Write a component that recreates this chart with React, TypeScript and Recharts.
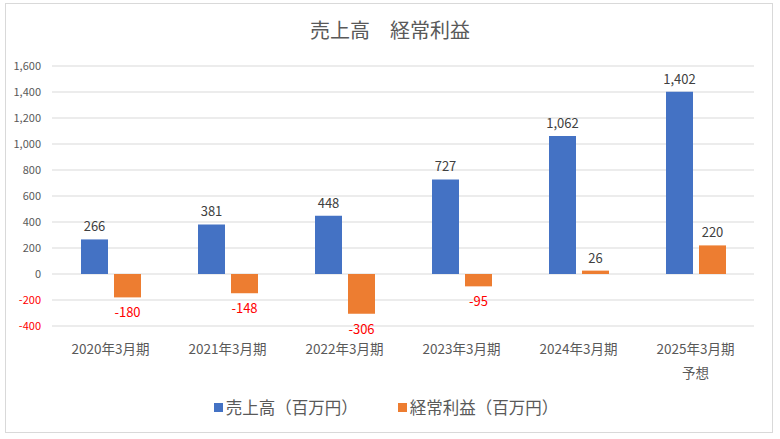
import {
  BarChart,
  Bar,
  XAxis,
  YAxis,
  CartesianGrid,
  Legend,
  LabelList,
} from "recharts";

const periods = [
  "2020年3月期",
  "2021年3月期",
  "2022年3月期",
  "2023年3月期",
  "2024年3月期",
  "2025年3月期",
];
const periodNotes = ["", "", "", "", "", "予想"];
const sales = [266, 381, 448, 727, 1062, 1402];
const ordinaryProfit = [-180, -148, -306, -95, 26, 220];
const yTicks = [-400, -200, 0, 200, 400, 600, 800, 1000, 1200, 1400, 1600];

const salesName = "売上高（百万円）";
const profitName = "経常利益（百万円）";

const data = periods.map((p, i) => ({
  period: p,
  note: periodNotes[i],
  sales: sales[i],
  profit: ordinaryProfit[i],
}));

const FONT = '"Noto Sans CJK JP", "Noto Sans", sans-serif';
const fmt = (v: number) => v.toLocaleString("en-US");

function YTick(props: any) {
  const { y, payload } = props;
  const v = payload.value as number;
  return (
    <text
      x={41}
      y={y}
      dy={4}
      textAnchor="end"
      fontSize={11}
      fontFamily={FONT}
      fill={v < 0 ? "#FF0000" : "#595959"}
    >
      {fmt(v)}
    </text>
  );
}

function XTick(props: any) {
  const { x, payload, index } = props;
  const note = periodNotes[index] || "";
  const base = 354;
  return (
    <g>
      <text
        x={x}
        y={base}
        textAnchor="middle"
        fontSize={13.5}
        fontFamily={FONT}
        fill="#595959"
      >
        {payload.value}
      </text>
      {note && (
        <text
          x={x}
          y={base + 24}
          textAnchor="middle"
          fontSize={13.5}
          fontFamily={FONT}
          fill="#595959"
        >
          {note}
        </text>
      )}
    </g>
  );
}

function ProfitLabel(props: any) {
  const { x, y, width, height, value } = props;
  const neg = value < 0;
  const cx = x + width / 2;
  const end = neg ? Math.max(y, y + height) : Math.min(y, y + height);
  return (
    <text
      x={cx}
      y={neg ? end + 20 : end - 8}
      textAnchor="middle"
      fontSize={13}
      fontFamily={FONT}
      fill={neg ? "#FF0000" : "#404040"}
    >
      {fmt(value)}
    </text>
  );
}

function SalesLabel(props: any) {
  const { x, y, width, value } = props;
  return (
    <text
      x={x + width / 2}
      y={y - 8}
      textAnchor="middle"
      fontSize={13}
      fontFamily={FONT}
      fill="#404040"
    >
      {fmt(value)}
    </text>
  );
}

function LegendContent() {
  const items = [
    { name: salesName, color: "#4472C4" },
    { name: profitName, color: "#ED7D31" },
  ];
  return (
    <div
      style={{
        display: "flex",
        justifyContent: "center",
        gap: 40,
        fontFamily: FONT,
        fontSize: 16.5,
        color: "#595959",
        paddingRight: 8,
        lineHeight: "21px",
      }}
    >
      {items.map((it) => (
        <span key={it.name} style={{ display: "flex", alignItems: "center" }}>
          <span
            style={{
              width: 9,
              height: 9,
              background: it.color,
              display: "inline-block",
              marginRight: 3,
            }}
          />
          {it.name}
        </span>
      ))}
    </div>
  );
}

export default function App() {
  return (
    <div
      style={{
        position: "absolute",
        left: 0,
        top: 0,
        width: 780,
        height: 439,
        background: "#fff",
        fontFamily: FONT,
      }}
    >
      <div
        style={{
          position: "absolute",
          left: 5,
          top: 3,
          width: 766,
          height: 428,
          border: "1px solid #D9D9D9",
        }}
      />
      <div
        style={{
          position: "absolute",
          top: 15,
          left: 0,
          width: 780,
          textAlign: "center",
          fontSize: 20,
          color: "#595959",
          fontFamily: FONT,
        }}
      >
        売上高　経常利益
      </div>
      <div style={{ position: "absolute", left: 0, top: 0 }}>
        <BarChart
          width={780}
          height={439}
          data={data}
          margin={{ top: 66, right: 26, bottom: 62, left: 0 }}
          barGap={6}
          barSize={27}
        >
          <CartesianGrid vertical={false} stroke="#D9D9D9" />
          <XAxis
            dataKey="period"
            tick={<XTick />}
            tickLine={false}
            axisLine={false}
            interval={0}
            height={30}
          />
          <YAxis
            width={52}
            domain={[-400, 1600]}
            ticks={yTicks}
            tick={<YTick />}
            tickLine={false}
            axisLine={false}
            interval={0}
          />
          <Legend
            content={<LegendContent />}
            wrapperStyle={{ position: "absolute", top: 397, left: 0, width: 780 }}
          />
          <Bar
            dataKey="sales"
            name={salesName}
            fill="#4472C4"
            isAnimationActive={false}
          >
            <LabelList dataKey="sales" content={<SalesLabel />} />
          </Bar>
          <Bar
            dataKey="profit"
            name={profitName}
            fill="#ED7D31"
            isAnimationActive={false}
          >
            <LabelList dataKey="profit" content={<ProfitLabel />} />
          </Bar>
        </BarChart>
      </div>
    </div>
  );
}
